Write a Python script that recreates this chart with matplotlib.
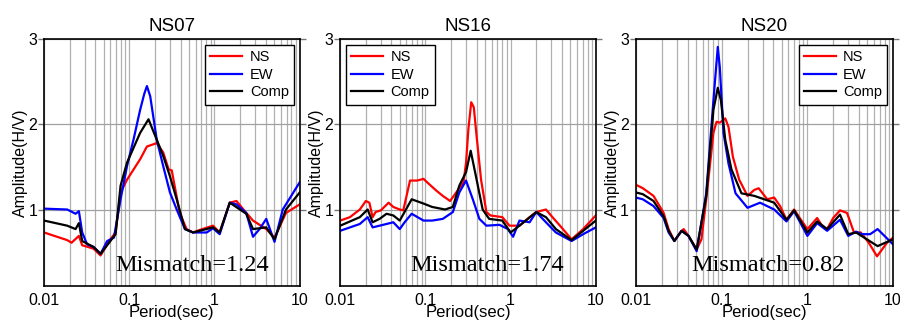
import matplotlib
matplotlib.use("Agg")
import matplotlib.pyplot as plt
from matplotlib.ticker import FixedLocator, LogLocator, NullFormatter

plt.rcParams['font.family'] = ['Liberation Sans', 'DejaVu Sans']

# NS07
p07_ns = [0.010, 0.0187, 0.021, 0.0256, 0.028, 0.038, 0.046, 0.060, 0.069, 0.079, 0.094, 0.134, 0.161, 0.21, 0.25, 0.29, 0.315, 0.39, 0.47, 0.56, 0.67, 0.96, 1.15, 1.51, 1.81, 2.36, 2.83, 4.05, 5.06, 6.9, 10.0]
a07_ns = [0.73, 0.64, 0.61, 0.69, 0.58, 0.54, 0.46, 0.65, 0.73, 1.20, 1.35, 1.59, 1.74, 1.78, 1.67, 1.47, 1.46, 0.96, 0.77, 0.73, 0.76, 0.81, 0.73, 1.08, 1.10, 0.96, 0.87, 0.77, 0.67, 0.96, 1.06]
p07_ew = [0.010, 0.0187, 0.0234, 0.0256, 0.028, 0.032, 0.038, 0.046, 0.055, 0.066, 0.079, 0.094, 0.112, 0.134, 0.150, 0.161, 0.176, 0.21, 0.25, 0.30, 0.36, 0.45, 0.56, 0.81, 0.96, 1.15, 1.51, 1.81, 2.36, 2.83, 3.38, 4.05, 5.06, 6.33, 10.0]
a07_ew = [1.01, 1.00, 0.95, 0.98, 0.73, 0.59, 0.56, 0.48, 0.63, 0.67, 1.12, 1.51, 1.82, 2.17, 2.36, 2.45, 2.33, 1.82, 1.51, 1.20, 1.00, 0.77, 0.73, 0.73, 0.78, 0.71, 1.08, 1.06, 0.96, 0.68, 0.77, 0.89, 0.62, 1.00, 1.32]
p07_cp = [0.010, 0.0187, 0.0234, 0.0256, 0.028, 0.038, 0.046, 0.060, 0.069, 0.079, 0.094, 0.134, 0.168, 0.21, 0.25, 0.30, 0.36, 0.45, 0.56, 0.96, 1.15, 1.51, 2.36, 2.83, 4.05, 5.06, 6.9, 10.0]
a07_cp = [0.87, 0.81, 0.77, 0.84, 0.63, 0.56, 0.48, 0.63, 0.71, 1.28, 1.55, 1.90, 2.06, 1.82, 1.63, 1.39, 1.12, 0.77, 0.73, 0.79, 0.73, 1.08, 0.95, 0.77, 0.79, 0.65, 1.00, 1.20]

# NS16
p16_ns = [0.010, 0.013, 0.017, 0.020, 0.022, 0.024, 0.026, 0.030, 0.037, 0.042, 0.050, 0.055, 0.066, 0.080, 0.095, 0.11, 0.135, 0.16, 0.195, 0.23, 0.28, 0.30, 0.32, 0.345, 0.37, 0.40, 0.45, 0.52, 0.58, 0.80, 0.97, 1.27, 1.67, 2.0, 2.6, 3.1, 3.8, 5.2, 7.1, 10.0]
a16_ns = [0.87, 0.91, 1.00, 1.10, 1.08, 0.91, 0.97, 0.99, 1.08, 1.03, 1.00, 0.99, 1.34, 1.34, 1.36, 1.30, 1.22, 1.16, 1.10, 1.20, 1.32, 1.55, 1.95, 2.26, 2.20, 1.85, 1.35, 0.97, 0.93, 0.91, 0.81, 0.81, 0.91, 0.97, 1.00, 0.91, 0.81, 0.65, 0.77, 0.93]
p16_ew = [0.010, 0.017, 0.021, 0.024, 0.029, 0.035, 0.042, 0.050, 0.057, 0.069, 0.095, 0.12, 0.16, 0.21, 0.25, 0.30, 0.36, 0.43, 0.52, 0.74, 0.93, 1.07, 1.27, 1.67, 2.0, 2.6, 3.4, 5.2, 7.1, 10.0]
a16_ew = [0.75, 0.83, 0.91, 0.79, 0.81, 0.83, 0.85, 0.77, 0.85, 0.95, 0.87, 0.87, 0.89, 0.97, 1.20, 1.34, 1.12, 0.89, 0.81, 0.82, 0.77, 0.68, 0.87, 0.85, 0.97, 0.85, 0.73, 0.63, 0.71, 0.79]
p16_cp = [0.010, 0.017, 0.021, 0.024, 0.029, 0.035, 0.042, 0.050, 0.069, 0.095, 0.12, 0.17, 0.21, 0.25, 0.30, 0.34, 0.39, 0.47, 0.56, 0.80, 1.0, 1.27, 2.0, 2.6, 3.4, 5.2, 10.0]
a16_cp = [0.81, 0.91, 1.00, 0.85, 0.89, 0.95, 0.93, 0.87, 1.12, 1.07, 1.03, 1.00, 1.03, 1.28, 1.44, 1.69, 1.40, 1.00, 0.89, 0.87, 0.73, 0.81, 0.97, 0.91, 0.77, 0.64, 0.87]

# NS20
p20_ns = [0.010, 0.012, 0.016, 0.021, 0.024, 0.028, 0.033, 0.036, 0.041, 0.051, 0.058, 0.066, 0.080, 0.087, 0.095, 0.11, 0.12, 0.135, 0.16, 0.20, 0.24, 0.27, 0.34, 0.41, 0.48, 0.57, 0.70, 0.84, 1.0, 1.3, 1.5, 1.7, 2.0, 2.4, 2.9, 3.5, 4.2, 5.2, 6.5, 8.5, 10.0]
a20_ns = [1.29, 1.25, 1.16, 0.96, 0.77, 0.63, 0.73, 0.77, 0.69, 0.53, 0.65, 1.12, 1.90, 2.03, 2.02, 2.07, 1.97, 1.62, 1.35, 1.16, 1.23, 1.25, 1.12, 1.14, 1.04, 0.88, 1.00, 0.88, 0.77, 0.90, 0.80, 0.77, 0.90, 0.99, 0.96, 0.73, 0.73, 0.61, 0.45, 0.61, 0.67]
p20_ew = [0.010, 0.012, 0.016, 0.021, 0.024, 0.028, 0.034, 0.041, 0.051, 0.066, 0.080, 0.090, 0.095, 0.105, 0.12, 0.145, 0.20, 0.28, 0.41, 0.57, 0.70, 1.0, 1.3, 1.7, 2.4, 3.0, 3.7, 4.3, 5.4, 6.6, 10.0]
a20_ew = [1.14, 1.12, 1.04, 0.90, 0.73, 0.63, 0.75, 0.69, 0.51, 1.19, 2.28, 2.91, 2.67, 1.90, 1.54, 1.19, 1.02, 1.08, 1.00, 0.86, 0.98, 0.69, 0.84, 0.75, 0.88, 0.69, 0.74, 0.71, 0.71, 0.77, 0.59]
p20_cp = [0.010, 0.012, 0.016, 0.021, 0.024, 0.028, 0.034, 0.041, 0.051, 0.066, 0.080, 0.090, 0.098, 0.11, 0.13, 0.17, 0.24, 0.41, 0.57, 0.70, 1.0, 1.3, 1.7, 2.4, 3.0, 3.7, 6.6, 10.0]
a20_cp = [1.20, 1.18, 1.10, 0.92, 0.75, 0.63, 0.75, 0.69, 0.53, 1.16, 2.17, 2.43, 2.28, 1.82, 1.47, 1.19, 1.16, 1.08, 0.88, 0.99, 0.73, 0.86, 0.77, 0.94, 0.71, 0.73, 0.57, 0.65]

stations = ['NS07', 'NS16', 'NS20']
mismatch = [1.24, 1.74, 0.82]
data = [
    [(p07_ns, a07_ns), (p07_ew, a07_ew), (p07_cp, a07_cp)],
    [(p16_ns, a16_ns), (p16_ew, a16_ew), (p16_cp, a16_cp)],
    [(p20_ns, a20_ns), (p20_ew, a20_ew), (p20_cp, a20_cp)],
]
comp_names = ['NS', 'EW', 'Comp']
colors = ['#ff0000', '#0000ff', '#000000']

fig = plt.figure(figsize=(9, 3.27), dpi=100)
lefts = [0.049, 0.378, 0.7067]
widths = [0.284, 0.284, 0.2856]
leg_loc = ['upper right', 'upper left', 'upper right']
txt_x = [0.58, 0.574, 0.515]

for i in range(3):
    ax = fig.add_axes([lefts[i], 0.125, widths[i], 0.755])
    for (per, amp), name, c in zip(data[i], comp_names, colors):
        ax.plot(per, amp, color=c, lw=1.6, label=name)
    ax.set_xscale('log')
    ax.set_xlim(0.01, 10)
    ax.set_ylim(0.1, 3)
    ax.xaxis.set_major_locator(FixedLocator([0.01, 0.1, 1, 10]))
    ax.set_xticklabels(['0.01', '0.1', '1', '10'])
    ax.xaxis.set_minor_locator(LogLocator(base=10, subs=range(2, 10)))
    ax.xaxis.set_minor_formatter(NullFormatter())
    ax.set_yticks([1, 2, 3])
    ax.set_yticklabels(['1', '2', '3'])
    ax.grid(True, which='both', axis='x', color='#b0b0b0', lw=0.9)
    ax.grid(True, which='major', axis='y', color='#a0a0a0', lw=0.9)
    ax.tick_params(axis='x', which='both', length=0, labelsize=11.5, pad=5)
    ax.tick_params(axis='y', direction='out', length=4, width=1, labelsize=11.5,
                   color='#777777', right=True, pad=1)
    for s in ax.spines.values():
        s.set_linewidth(1.2)
    ax.set_title(stations[i], fontsize=13.5, pad=6)
    ax.set_xlabel('Period(sec)', fontsize=12, labelpad=-2)
    ax.set_ylabel('Amplitude(H/V)', fontsize=11.5, labelpad=0)
    leg = ax.legend(loc=leg_loc[i], fontsize=10.5, fancybox=False, framealpha=1,
                    edgecolor='black', handlelength=2.2, borderpad=0.35,
                    labelspacing=0.25, handletextpad=0.5, borderaxespad=0.4)
    leg.get_frame().set_linewidth(1)
    ax.text(txt_x[i], 0.085, 'Mismatch=%.2f' % mismatch[i], transform=ax.transAxes,
            ha='center', va='center', fontsize=17.5, family='Liberation Serif')

fig.savefig('out.png', dpi=100)
